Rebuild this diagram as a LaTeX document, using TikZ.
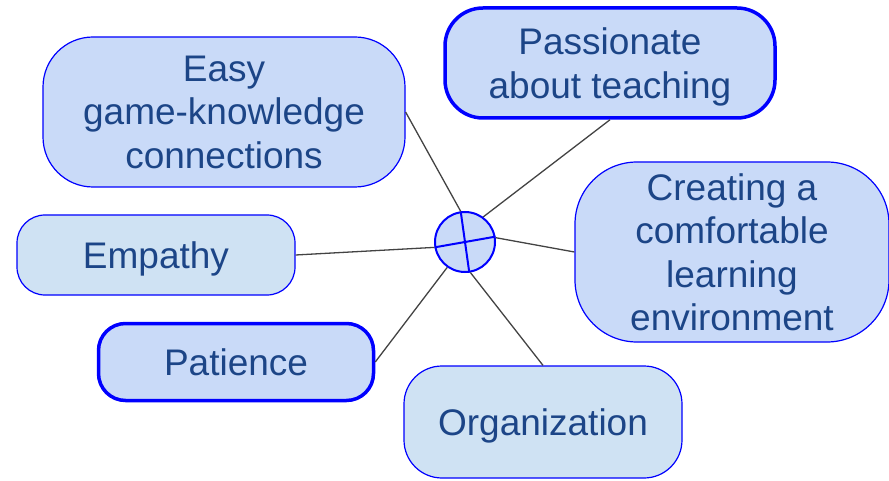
\documentclass[tikz,border=0pt]{standalone}
\usepackage{fontspec}
\setmainfont{Liberation Sans}
\definecolor{boxfill}{HTML}{C9DAF8}
\definecolor{boxlight}{HTML}{CFE2F3}
\definecolor{boxtext}{HTML}{1C4587}
\definecolor{linkgray}{HTML}{434343}

\begin{document}
\begin{tikzpicture}[x=1pt,y=-1pt,
	bubble/.style={draw=blue, line width=1.2pt, fill=boxfill, text=boxtext, align=center, inner sep=0pt,
		text depth=0pt, font=\fontsize{37}{43.5}\selectfont},
	bubble light/.style={bubble, fill=boxlight},
	bubble bold/.style={bubble, line width=3.5pt},
	link/.style={linkgray, line width=1.3pt}]
	\useasboundingbox (0,0) rectangle (889,481);

	\node[bubble, minimum width=362, minimum height=150, rounded corners=50] (easy) at (224,112) {Easy\\game-knowledge\\connections};
	\node[bubble bold, minimum width=330, minimum height=110, rounded corners=38] (passion) at (610,63) {Passionate\\about teaching};
	\node[bubble, minimum width=314, minimum height=180, rounded corners=62] (comfort) at (732,252) {Creating a\\comfortable\\learning\\environment};
	\node[bubble light, minimum width=278, minimum height=80, rounded corners=28] (empathy) at (156,255) {Empathy};
	\node[bubble bold, minimum width=275, minimum height=77, rounded corners=27] (patience) at (236,362) {Patience};
	\node[bubble light, minimum width=278, minimum height=112, rounded corners=38] (organize) at (543,422) {Organization};

	\node[circle, draw=blue, line width=2pt, fill=boxfill, minimum size=60, inner sep=0pt] (hub) at (465,242) {};
	\draw [blue, line width=2pt] (hub.190) -- (hub.10);
	\draw [blue, line width=2pt] (hub.98) -- (hub.278);

	\draw [link] (easy.east) -- (hub.98);
	\draw [link] (passion.south) -- (hub.54);
	\draw [link] (comfort.west) -- (hub.8);
	\draw [link] (empathy.east) -- (hub.190);
	\draw [link] (patience.east) -- (hub.235);
	\draw [link] (organize.north) -- (hub.280);
\end{tikzpicture}
\end{document}
